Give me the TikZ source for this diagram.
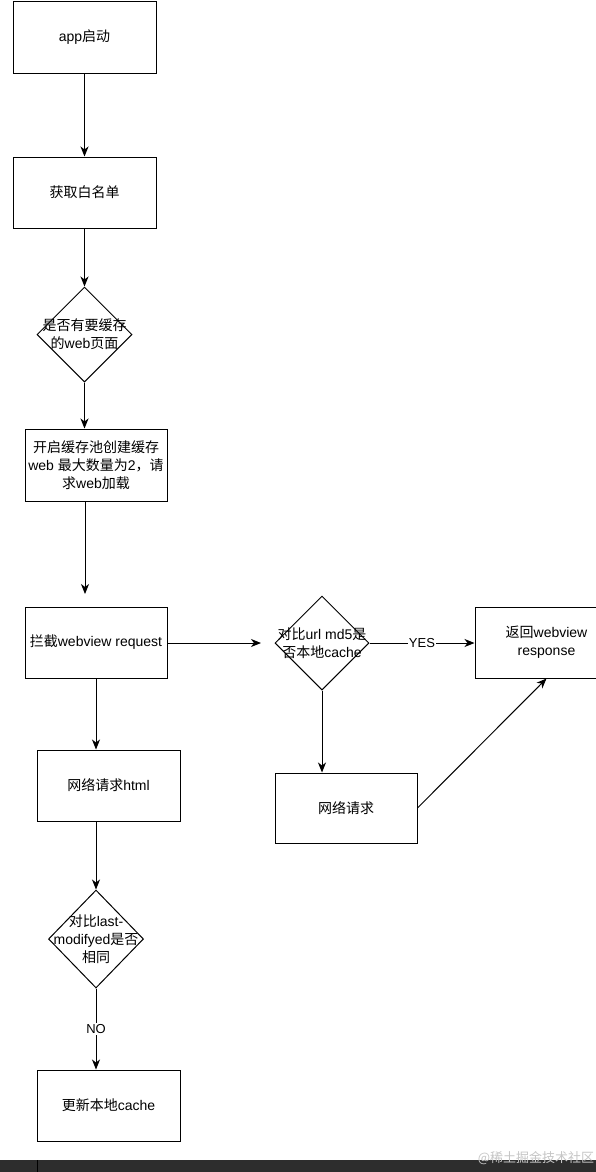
\documentclass[tikz,border=0pt]{standalone}
\usepackage{fontspec}
\setmainfont{Liberation Sans}
\newfontfamily\cjk{Noto Sans CJK SC}
\newcommand{\zh}[1]{{\cjk #1}}
\usetikzlibrary{shapes.geometric,arrows.meta}
\definecolor{barcol}{HTML}{2D2D2D}
\begin{document}
\begin{tikzpicture}[x=1pt,y=-1pt,
  every node/.style={font=\fontsize{14}{18}\selectfont},
  box/.style={draw=black,line width=1pt,minimum width=143pt,minimum height=71pt,inner sep=0pt,align=center},
  dia/.style={draw=black,line width=1pt,diamond,minimum width=95pt,minimum height=95pt,inner sep=0pt},
  txt/.style={align=center,inner sep=0pt},
  arr/.style={line width=1pt,-{Stealth[length=10pt,width=8pt,inset=3pt]}},
  lbl/.style={fill=white,inner sep=1pt,font=\fontsize{13}{16}\selectfont}
]
\useasboundingbox (0,0) rectangle (596,1172);
\clip (0,0) rectangle (596,1172);
\fill[white] (0,0) rectangle (596,1172);

% left column
\node[box] (n1) at (84.5,37.5) {app\zh{启动}};
\node[box] (n2) at (84.5,192.5) {\zh{获取白名单}};
\node[dia] (d1) at (84.5,334.5) {};
\node[txt] (d1t) at (84.5,334.5) {\zh{是否有要缓存}\\\zh{的}web\zh{页面}};
\node[box,minimum width=142pt,minimum height=72pt] (n3) at (96,465) {\zh{开启缓存池创建缓存}\\web \zh{最大数量为}2\zh{，请}\\\zh{求}web\zh{加载}};
\node[box,minimum width=142pt] (n4) at (96,642.5) {\zh{拦截}webview request};
\node[box] (n5) at (108.5,785.5) {\zh{网络请求}html};
\node[dia,minimum height=98pt] (d3) at (96,939) {};
\node[txt] (d3t) at (96,939) {\zh{对比}last-\\modifyed\zh{是否}\\\zh{相同}};
\node[box] (n6) at (108.5,1105.5) {\zh{更新本地}cache};

% right part
\node[dia,minimum height=94pt,minimum width=94pt] (d2) at (322,643) {};
\node[txt] (d2t) at (322,643) {\zh{对比}url md5\zh{是}\\\zh{否本地}cache};
\node[box] (n7) at (546.5,642.5) {\zh{返回}webview\\response};
\node[box,minimum width=142pt,minimum height=70pt] (n8) at (346,808) {\zh{网络请求}};

\coordinate (c1) at (85,594);
\coordinate (c2) at (261,643);

% connectors
\draw[arr] (n1.south) -- (n2.north);
\draw[arr] (n2.south) -- (d1.north);
\draw[arr] (d1.south) -- (d1.south |- n3.north);
\draw[arr] (c1 |- n3.south) -- (c1);
\draw[arr] (n4.east |- c2) -- (c2);
\draw[arr] (d2.east) -- node[lbl] (yes) {YES} (d2.east -| n7.west);
\draw[arr] (d2.south) -- (d2.south |- n8.north);
\draw[arr] (n8.east) -- (n7.south);
\draw[arr] (n4.south) -- (n4.south |- n5.north);
\draw[arr] (d3.north |- n5.south) -- (d3.north);
\draw[arr] (d3.south) -- node[lbl] (no) {NO} (d3.south |- n6.north);

% bottom bar and watermark
\fill[barcol] (0,1160) rectangle (596,1172);
\draw[black,line width=1pt] (37,1160) -- (37,1172);
\node[text=gray!45,font=\cjk\fontsize{13}{15}\selectfont,inner sep=0pt] (wm) at (536,1158) {@稀土掘金技术社区};
\end{tikzpicture}
\end{document}
